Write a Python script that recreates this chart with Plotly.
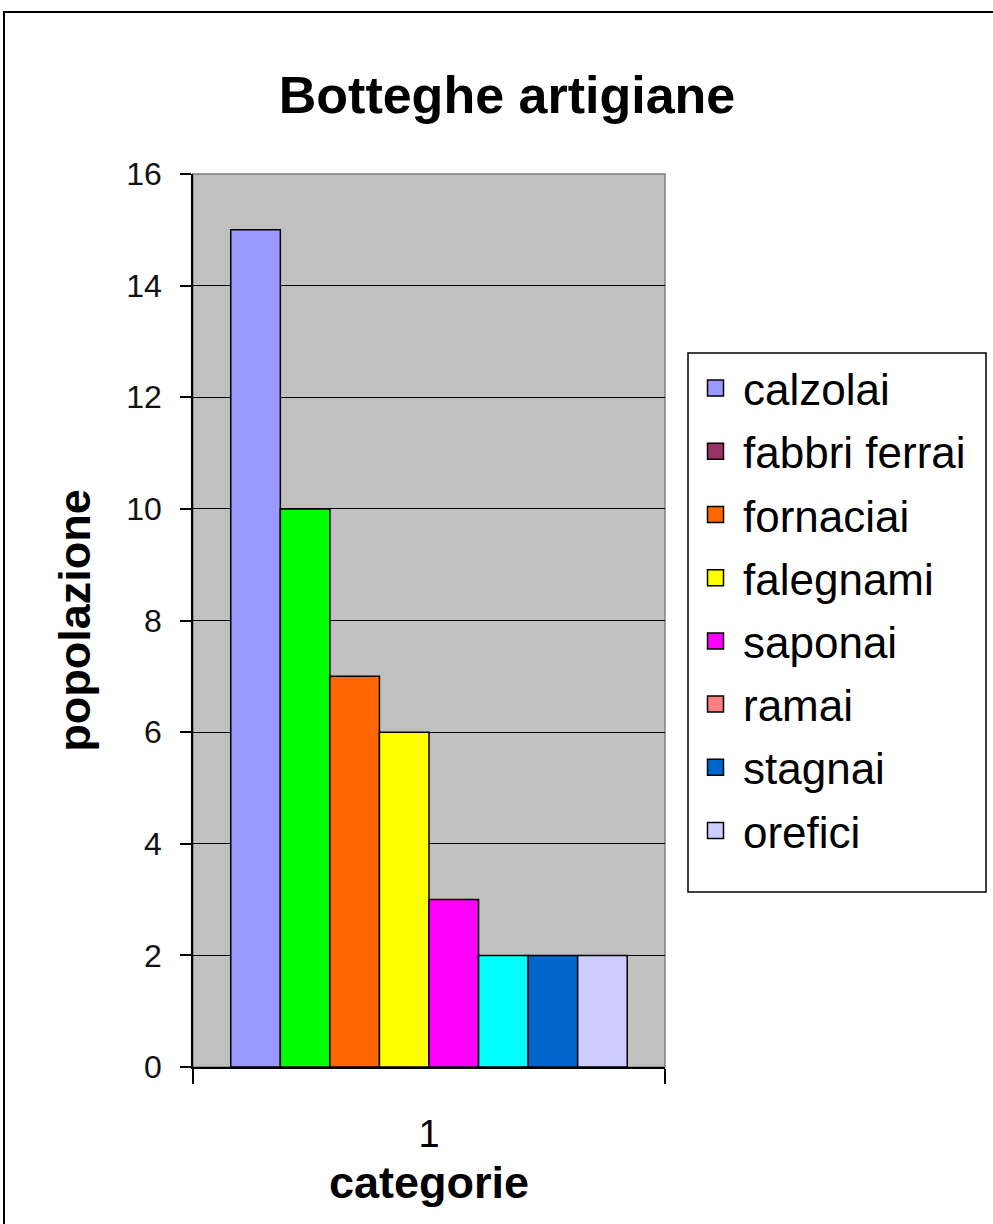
import plotly.graph_objects as go

categories = ["calzolai", "fabbri ferrai", "fornaciai", "falegnami",
              "saponai", "ramai", "stagnai", "orefici"]
values = [15, 10, 7, 6, 3, 2, 2, 2]
bar_colors = ["#9999FF", "#00FF00", "#FF6600", "#FFFF00",
              "#FF00FF", "#00FFFF", "#0066CC", "#CCCCFF"]
legend_colors = ["#9999FF", "#993366", "#FF6600", "#FFFF00",
                 "#FF00FF", "#FF8080", "#0066CC", "#CCCCFF"]
x_label = ["1"]
y_ticks = [0, 2, 4, 6, 8, 10, 12, 14, 16]

FONT = "Liberation Sans, Arial, sans-serif"

W, H = 993, 1224
PL, PR, PT, PB = 193, 665, 174, 1067
PW, PH = PR - PL, PB - PT

def px(x):
    return (x - PL) / PW

def py(y):
    return (PB - y) / PH

fig = go.Figure()
for name, v, c in zip(categories, values, bar_colors):
    fig.add_trace(go.Bar(x=x_label, y=[v], name=name, showlegend=False,
                         marker=dict(color=c, line=dict(color="black", width=1.5))))
for i, (name, c) in enumerate(zip(categories, legend_colors)):
    fig.add_trace(go.Scatter(x=[None], y=[None], name=name, mode="markers",
                             legendgroup=f"g{i}",
                             marker=dict(symbol="square", size=16, color=c,
                                         line=dict(color="black", width=1.5))))

fig.update_layout(
    width=W, height=H,
    margin=dict(l=PL, r=W - PR, t=PT, b=H - PB),
    paper_bgcolor="white", plot_bgcolor="#C0C0C0",
    barmode="group", bargap=0.16, bargroupgap=0,
    font=dict(family=FONT, color="black"),
    title=dict(text="<b>Botteghe artigiane</b>", x=507 / W, xanchor="center",
               y=1 - 95 / H, yanchor="middle",
               font=dict(size=52, family=FONT, color="black")),
    legend=dict(x=px(688), xanchor="left", y=py(353), yanchor="top",
                borderwidth=0, bgcolor="rgba(0,0,0,0)",
                font=dict(size=44, family=FONT, color="black"),
                tracegroupgap=3, itemwidth=45),
    showlegend=True,
)
fig.update_xaxes(type="category", showgrid=False, showline=True, linecolor="black", linewidth=1.5,
                 ticks="outside", tickson="boundaries", ticklen=15, tickcolor="black", tickwidth=1.5,
                 ticklabelstandoff=33,
                 tickfont=dict(size=38, family=FONT, color="black"),
                 title=dict(text="<b>categorie</b>", font=dict(size=45, family=FONT, color="black"),
                            standoff=12))
fig.update_yaxes(range=[0, 16], tickvals=y_ticks, showgrid=True, gridcolor="black", gridwidth=1.2,
                 showline=True, linecolor="black", linewidth=1.5, zeroline=False,
                 ticks="outside", ticklen=11, tickcolor="black", tickwidth=1.5,
                 ticklabelstandoff=12,
                 tickfont=dict(size=32, family=FONT, color="#111"),
                 title=dict(text="<b>popolazione</b>", font=dict(size=45, family=FONT, color="black"),
                            standoff=22))

# plot-area border (top/right gray), legend frame and outer chart frame
fig.add_shape(type="rect", xref="paper", yref="paper", x0=0, x1=1, y0=0, y1=1,
              line=dict(color="#808080", width=1.5), layer="below")
fig.add_shape(type="rect", xref="paper", yref="paper",
              x0=px(688), x1=px(986), y0=py(892), y1=py(353),
              line=dict(color="black", width=1.5), fillcolor="white")
fig.add_shape(type="rect", xref="paper", yref="paper",
              x0=px(4), x1=px(1030), y0=py(1240), y1=py(12),
              line=dict(color="black", width=2))

fig.write_html("out.html", config={"displayModeBar": False},
               post_script="document.body.style.margin='0';document.body.style.overflow='hidden';")
